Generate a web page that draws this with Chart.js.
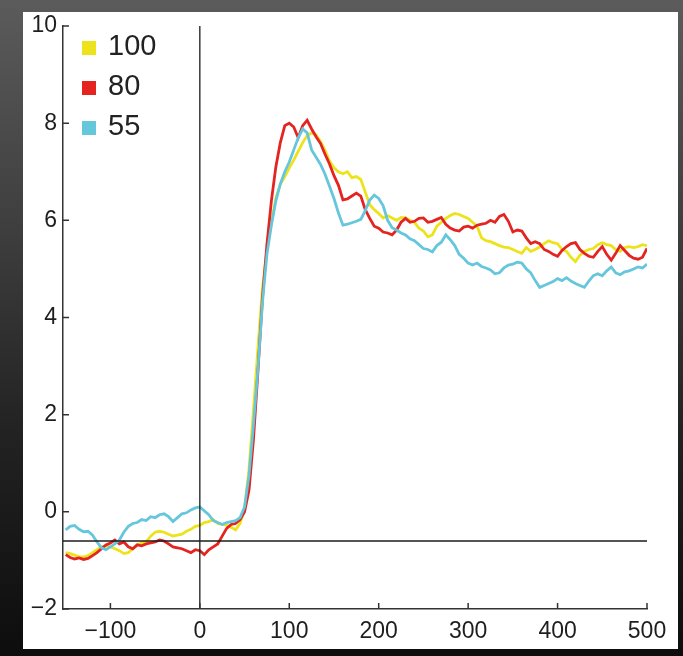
<!DOCTYPE html>
<html>
<head>
<meta charset="utf-8">
<script src="https://cdn.jsdelivr.net/npm/chart.js@4"></script>
<style>
    html, body { margin: 0; padding: 0; }
    body {
        width: 683px; height: 656px; overflow: hidden; position: relative;
        background: linear-gradient(to bottom, #5b5b5b 0%, #3e3e3e 35%, #232323 65%, #0d0d0d 100%);
    }
    #panel { position: absolute; left: 23px; top: 12px; width: 655px; height: 637px; background: #fff; }
    canvas { display: block; }
</style>
</head>
<body>
<div id="panel"><canvas id="chart" width="655" height="637"></canvas></div>
<script>
// time (ms) relative to onset
const times = [-150,-145,-140,-135,-130,-125,-120,-115,-110,-105,
    -100,-95,-90,-85,-80,-75,-70,-65,-60,-55,
    -50,-45,-40,-35,-30,-25,-20,-15,-10,-5,
    0,5,10,15,20,25,30,35,40,45,
    50,55,60,65,70,75,80,85,90,95,
    100,105,110,115,120,125,130,135,140,145,
    150,155,160,165,170,175,180,185,190,195,
    200,205,210,215,220,225,230,235,240,245,
    250,255,260,265,270,275,280,285,290,295,
    300,305,310,315,320,325,330,335,340,345,
    350,355,360,365,370,375,380,385,390,395,
    400,405,410,415,420,425,430,435,440,445,
    450,455,460,465,470,475,480,485,490,495,
    500];

const series100 = [-0.84,-0.86,-0.89,-0.92,-0.93,-0.90,-0.84,-0.78,-0.72,-0.70,
    -0.72,-0.76,-0.80,-0.86,-0.84,-0.76,-0.68,-0.64,-0.62,-0.50,
    -0.42,-0.40,-0.42,-0.46,-0.50,-0.48,-0.46,-0.40,-0.36,-0.30,
    -0.28,-0.22,-0.20,-0.16,-0.24,-0.26,-0.28,-0.32,-0.37,-0.24,
    0.06,0.88,2.10,3.38,4.60,5.36,5.96,6.46,6.74,6.90,
    7.08,7.24,7.42,7.60,7.74,7.80,7.76,7.62,7.44,7.22,
    7.08,7.00,6.96,7.00,6.88,6.90,6.84,6.58,6.32,6.22,
    6.14,6.05,6.10,6.05,6.00,6.06,6.05,6.00,5.96,5.84,
    5.78,5.66,5.70,5.88,5.96,6.04,6.10,6.14,6.12,6.08,
    6.04,5.96,5.88,5.64,5.58,5.56,5.52,5.48,5.45,5.44,
    5.40,5.36,5.32,5.44,5.36,5.40,5.45,5.52,5.58,5.54,
    5.52,5.40,5.36,5.24,5.15,5.28,5.36,5.40,5.42,5.50,
    5.54,5.50,5.48,5.40,5.36,5.44,5.46,5.44,5.46,5.50,
    5.48];

const series80 = [-0.88,-0.94,-0.97,-0.95,-0.98,-0.96,-0.90,-0.84,-0.76,-0.68,
    -0.64,-0.58,-0.66,-0.62,-0.72,-0.76,-0.68,-0.70,-0.66,-0.64,
    -0.62,-0.58,-0.60,-0.66,-0.72,-0.74,-0.76,-0.80,-0.84,-0.78,
    -0.80,-0.88,-0.78,-0.72,-0.66,-0.50,-0.34,-0.26,-0.24,-0.16,
    0.00,0.45,1.50,2.90,4.40,5.50,6.40,7.10,7.60,7.95,
    8.00,7.92,7.70,7.95,8.06,7.88,7.72,7.58,7.36,7.16,
    6.92,6.72,6.42,6.44,6.50,6.56,6.50,6.22,6.04,5.88,
    5.84,5.76,5.74,5.70,5.80,5.96,6.04,5.96,5.98,6.04,
    6.05,5.96,5.98,6.02,6.06,5.92,5.84,5.80,5.78,5.86,
    5.88,5.84,5.90,5.92,5.94,6.00,5.96,6.08,6.12,5.98,
    5.76,5.80,5.78,5.64,5.52,5.56,5.52,5.40,5.36,5.30,
    5.26,5.38,5.46,5.52,5.54,5.40,5.32,5.26,5.24,5.36,
    5.46,5.30,5.18,5.32,5.48,5.38,5.28,5.22,5.20,5.24,
    5.42];

const series55 = [-0.37,-0.30,-0.28,-0.36,-0.41,-0.40,-0.48,-0.62,-0.74,-0.78,
    -0.72,-0.66,-0.58,-0.42,-0.30,-0.24,-0.22,-0.16,-0.18,-0.10,
    -0.12,-0.06,-0.04,-0.10,-0.20,-0.12,-0.04,-0.02,0.04,0.08,
    0.10,0.02,-0.06,-0.18,-0.22,-0.26,-0.22,-0.20,-0.18,-0.12,
    0.10,0.75,1.80,2.95,4.30,5.30,5.90,6.40,6.75,7.00,
    7.20,7.45,7.70,7.88,7.80,7.45,7.30,7.15,6.95,6.70,
    6.45,6.15,5.90,5.92,5.95,5.98,6.02,6.20,6.42,6.52,
    6.45,6.30,6.00,5.85,5.80,5.74,5.70,5.62,5.58,5.50,
    5.42,5.40,5.35,5.48,5.55,5.70,5.60,5.48,5.30,5.22,
    5.12,5.08,5.12,5.05,5.02,4.98,4.90,4.92,5.02,5.08,
    5.10,5.14,5.12,5.00,4.92,4.76,4.62,4.66,4.70,4.74,
    4.80,4.76,4.82,4.75,4.70,4.66,4.62,4.75,4.86,4.90,
    4.86,4.96,5.04,4.92,4.88,4.94,4.96,5.00,5.04,5.02,
    5.10];

const seriesNames = ['100', '80', '55'];
const xTicks = [-100, 0, 100, 200, 300, 400, 500];
const yTicks = [-2, 0, 2, 4, 6, 8, 10];
const onsetX = 0;
const baselineY = -0.6;

const colors = ['#ede31c', '#e32421', '#66c6dc'];
const fontFamily = '"Liberation Sans", Arial, sans-serif';

function points(values) {
    return values.map((v, i) => ({ x: times[i], y: v }));
}

// minus sign instead of hyphen
function fmt(v) {
    return v < 0 ? '\u2212' + Math.abs(v) : String(v);
}

// onset / baseline lines, inward ticks and legend box
const extras = {
    id: 'extras',
    afterDatasetsDraw(chart) {
        const { ctx, chartArea: a, scales: { x, y } } = chart;
        ctx.save();
        ctx.strokeStyle = '#1c1c1c';
        ctx.lineWidth = 1.3;
        const x0 = x.getPixelForValue(onsetX);
        const yb = y.getPixelForValue(baselineY);
        ctx.beginPath();
        ctx.moveTo(x0, a.top);
        ctx.lineTo(x0, a.bottom);
        ctx.moveTo(a.left, yb);
        ctx.lineTo(a.right, yb);
        ctx.stroke();

        ctx.strokeStyle = '#333';
        ctx.lineWidth = 1.5;
        ctx.beginPath();
        xTicks.forEach(v => {
            const px = x.getPixelForValue(v);
            ctx.moveTo(px, a.bottom);
            ctx.lineTo(px, a.bottom - 6);
        });
        yTicks.forEach(v => {
            const py = y.getPixelForValue(v);
            ctx.moveTo(a.left, py);
            ctx.lineTo(a.left + 6, py);
        });
        ctx.stroke();

        ctx.font = '29px ' + fontFamily;
        ctx.textBaseline = 'alphabetic';
        ctx.textAlign = 'left';
        chart.data.datasets.forEach((ds, i) => {
            const base = a.top + 29 + i * 40;
            ctx.fillStyle = ds.borderColor;
            ctx.fillRect(a.left + 19, base - 14, 14, 14);
            ctx.fillStyle = '#222';
            ctx.fillText(ds.label, a.left + 45, base);
        });
        ctx.restore();
    }
};

const config = {
    type: 'line',
    data: {
        datasets: [
            { label: seriesNames[0], data: points(series100), borderColor: colors[0], order: 2 },
            { label: seriesNames[1], data: points(series80), borderColor: colors[1], order: 1 },
            { label: seriesNames[2], data: points(series55), borderColor: colors[2], order: 0 }
        ]
    },
    options: {
        responsive: false,
        devicePixelRatio: 1,
        animation: false,
        layout: {
            padding: { top: 14, right: 31, bottom: 4, left: 6 }
        },
        elements: {
            point: { radius: 0 },
            line: { borderWidth: 2.8, tension: 0 }
        },
        plugins: {
            legend: { display: false },
            tooltip: { enabled: false }
        },
        scales: {
            x: {
                type: 'linear',
                min: -153,
                max: 500,
                afterBuildTicks: s => { s.ticks = xTicks.map(v => ({ value: v })); },
                afterFit: s => { s.height = 36; s.paddingLeft = 0; s.paddingRight = 0; },
                grid: { display: false, drawTicks: false },
                border: { display: true, color: '#333', width: 1.5 },
                ticks: {
                    padding: 9,
                    color: '#1e1e1e',
                    font: { family: fontFamily, size: 23 },
                    maxRotation: 0,
                    callback: v => fmt(v)
                }
            },
            y: {
                min: -2,
                max: 10,
                afterBuildTicks: s => { s.ticks = yTicks.map(v => ({ value: v })); },
                afterFit: s => { s.width = 34; s.paddingTop = 0; s.paddingBottom = 0; },
                grid: { display: false, drawTicks: false },
                border: { display: true, color: '#333', width: 1.5 },
                ticks: {
                    padding: 6,
                    color: '#1e1e1e',
                    font: { family: fontFamily, size: 23 },
                    callback: v => fmt(v)
                }
            }
        }
    },
    plugins: [extras]
};

var chart = document.getElementById('chart');
var myChart = new Chart(chart, config);
</script>
</body>
</html>
